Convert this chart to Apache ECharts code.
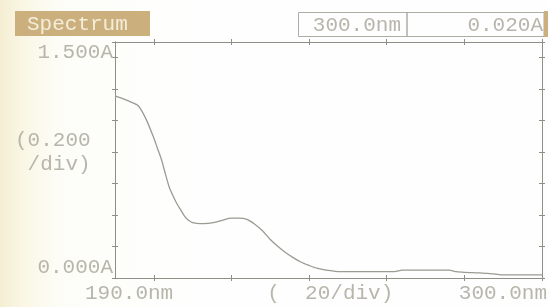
<!DOCTYPE html>
<html>
<head>
<meta charset="utf-8">
<script src="https://cdn.jsdelivr.net/npm/echarts@6/dist/echarts.min.js"></script>
<style>
    html, body { margin: 0; padding: 0; }
    body { background: linear-gradient(to right, #f5eed2 0px, #faf7e6 25px, #fdfdf8 60px, #fefefe 200px); }
    #main { width: 548px; height: 307px; }
</style>
</head>
<body>
<div id="main"></div>
<script>
// wavelength (nm) and absorbance
var wavelength = [190, 192, 194, 196, 198, 200, 201, 202, 203, 204, 205, 206, 207, 208, 209, 210, 212, 214, 216, 218, 220, 222, 224, 226, 228, 230, 232, 234, 236, 238, 240, 242, 244, 246, 248, 250, 254, 258, 262, 264, 266, 270, 274, 276, 278, 280, 282, 284, 286, 288, 290, 292, 296, 300];
var absorbance = [1.157, 1.14, 1.12, 1.095, 1.01, 0.89, 0.82, 0.75, 0.66, 0.575, 0.52, 0.47, 0.43, 0.39, 0.365, 0.352, 0.346, 0.347, 0.355, 0.37, 0.38, 0.38, 0.372, 0.342, 0.3, 0.245, 0.2, 0.16, 0.128, 0.1, 0.08, 0.062, 0.052, 0.045, 0.04, 0.04, 0.04, 0.04, 0.04, 0.05, 0.05, 0.05, 0.05, 0.05, 0.04, 0.036, 0.034, 0.032, 0.03, 0.025, 0.02, 0.02, 0.02, 0.02];

var xMin = 190, xMax = 300;
var xTicks = [200, 220, 240, 260, 280, 300];
var yMin = 0, yMax = 1.5, yStep = 0.2;
var yLabels = ['1.500A', '0.000A'];
var yDivLabel = '(0.200\n /div)';
var xLabels = ['190.0nm', '(  20/div)', '300.0nm'];
var title = 'Spectrum';

var lineColor = '#8f8e87';
var textColor = '#b8b5ab';
var font = 'Liberation Mono';

var pts = [];
for (var i = 0; i < wavelength.length; i++) {
    pts.push([wavelength[i], absorbance[i]]);
}

var myChart = echarts.init(document.getElementById('main'), null, {renderer: 'canvas'});

function tickAxis(pos, inside) {
    var isX = pos == 'top' || pos == 'bottom';
    var ax = {
        type: 'value',
        position: pos,
        min: isX ? xMin : yMin,
        max: isX ? xMax : yMax,
        axisLine: {show: true, onZero: false, lineStyle: {color: lineColor, width: 1}},
        axisTick: {show: true, inside: inside, length: 3, lineStyle: {color: lineColor}},
        axisLabel: {show: false},
        splitLine: {show: false}
    };
    if (isX) {
        ax.axisTick.customValues = xTicks;
    } else {
        ax.interval = yStep;
    }
    return ax;
}

// ticks of the instrument cross the frame, so each side gets an inside and an outside axis
var xAxes = [tickAxis('bottom', true), tickAxis('bottom', false), tickAxis('top', true), tickAxis('top', false)];
var yAxes = [tickAxis('left', true), tickAxis('left', false), tickAxis('right', true), tickAxis('right', false)];

option = {
    animation: false,
    backgroundColor: 'rgba(0,0,0,0)',
    grid: {left: 115, right: 6, top: 42, bottom: 29, containLabel: false},
    xAxis: xAxes,
    yAxis: yAxes,
    series: [{
        type: 'line',
        data: pts,
        showSymbol: false,
        smooth: 0.25,
        lineStyle: {color: '#9b9a93', width: 1.3},
        xAxisIndex: 0,
        yAxisIndex: 0
    }]
};
myChart.setOption(option);

// labels of the screen, placed through the axes
function px(x, y) {
    return myChart.convertToPixel({xAxisIndex: 0, yAxisIndex: 0}, [x, y]);
}
function txt(s, x, y, align, vAlign, color) {
    return {
        type: 'text',
        x: x, y: y,
        style: {
            text: s,
            fill: color || textColor,
            font: '21px "' + font + '"',
            align: align,
            verticalAlign: vAlign,
            lineHeight: 24
        },
        z: 10
    };
}
var pTop = px(xMin, yMax), pBot = px(xMin, yMin), pMid = px(xMin, 0.8);
var pRight = px(xMax, yMin), pDiv = px(230, yMin);
var lastW = wavelength[wavelength.length - 1].toFixed(1) + 'nm';
var lastA = absorbance[absorbance.length - 1].toFixed(3) + 'A';

var graphics = [
    // header
    {type: 'rect', shape: {x: 15, y: 11, width: 135, height: 25}, style: {fill: '#cbb07e'}},
    txt(title, 27, 24, 'left', 'middle', '#f4eddb'),
    {type: 'rect', shape: {x: 298.5, y: 12.5, width: 108.5, height: 24}, style: {fill: 'none', stroke: '#aeaca4', lineWidth: 1}},
    {type: 'rect', shape: {x: 407, y: 12.5, width: 137, height: 24}, style: {fill: 'none', stroke: '#aeaca4', lineWidth: 1}},
    {type: 'rect', shape: {x: 544, y: 11, width: 4, height: 26}, style: {fill: '#cbb07e'}},
    txt(lastW, 401, 25, 'right', 'middle'),
    txt(lastA, 543, 25, 'right', 'middle'),
    // y labels
    txt(yLabels[0], pTop[0] - 2, pTop[1] - 2, 'right', 'top'),
    txt(yLabels[1], pBot[0] - 2, pBot[1] + 1, 'right', 'bottom'),
    txt(yDivLabel, 15, pMid[1], 'left', 'middle'),
    // x labels
    txt(xLabels[0], pBot[0] - 30, pBot[1] + 3, 'left', 'top'),
    txt(xLabels[1], pDiv[0] - 3, pBot[1] + 3, 'left', 'top'),
    txt(xLabels[2], pRight[0] + 5, pRight[1] + 3, 'right', 'top')
];
myChart.setOption({graphic: graphics});
</script>
</body>
</html>
